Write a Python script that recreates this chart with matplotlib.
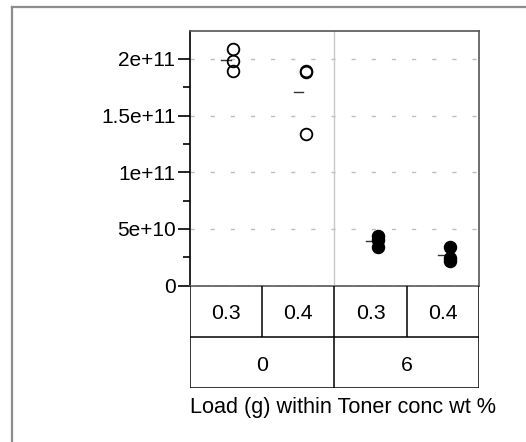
import matplotlib.pyplot as plt
from matplotlib.lines import Line2D
import numpy as np

plt.rcParams['font.family'] = ['Liberation Sans', 'DejaVu Sans']

# groups: load (g) nested within toner concentration (wt %)
load_labels = ['0.3', '0.4', '0.3', '0.4']
toner_labels = ['0', '6']
filled = [False, False, True, True]
group_values = [
    [2.09e11, 1.98e11, 1.89e11],
    [1.89e11, 1.885e11, 1.335e11],
    [4.35e10, 4.0e10, 3.4e10],
    [3.45e10, 2.45e10, 2.15e10],
]
ytick_vals = [0, 5e10, 1e11, 1.5e11, 2e11]
ytick_text = ['0', '5e+10', '1e+11', '1.5e+11', '2e+11']
ymax = 2.245e11

fig = plt.figure(figsize=(5.26, 4.42), dpi=100)

# outer panel border (open on right and bottom)
fig.add_artist(Line2D([12 / 526, 12 / 526], [0, 1 - 7 / 442], transform=fig.transFigure,
                      color='#8c8c8c', lw=1.6))
fig.add_artist(Line2D([12 / 526, 1], [1 - 7 / 442, 1 - 7 / 442], transform=fig.transFigure,
                      color='#8c8c8c', lw=1.6))

ax = fig.add_axes([0.3612, 0.3536, 0.5494, 0.5763])
ax.set_xlim(0, 4)
ax.set_ylim(0, ymax)

for v in ytick_vals:
    ax.axhline(v, color='#bdbdbd', lw=1, dashes=(3, 11.5), zorder=3 if v == 0 else 1)
ax.axvline(2, color='#c8c8c8', lw=1, zorder=1)

for i, vals in enumerate(group_values):
    xc = i + 0.5
    ax.plot([xc - 0.065, xc + 0.065], [np.mean(vals)] * 2, color='#333333', lw=1, zorder=2)
    ax.plot([xc + 0.1] * len(vals), vals, 'o', ms=8.4, mew=1.3, mec='black',
            mfc='black' if filled[i] else 'none', zorder=3, clip_on=False)

ax.set_yticks(ytick_vals)
ax.set_yticklabels(ytick_text, fontsize=15)
ax.set_yticks(np.arange(2.5e10, 2.25e11, 5e10), minor=True)
ax.tick_params(axis='y', which='major', length=8.5, width=1.2, pad=2)
ax.tick_params(axis='y', which='minor', length=5, width=1.2)
ax.set_xticks([])
ax.spines['left'].set_color('black')
ax.spines['left'].set_linewidth(1.2)
for s in ['top', 'right', 'bottom']:
    ax.spines[s].set_color('#555555')
    ax.spines[s].set_linewidth(1.2)

# two-level category table under the plot
tb = fig.add_axes([0.3612, 1 - 388.3 / 442, 0.5494, (388.3 - 285.7) / 442])
tb.set_xlim(0, 4)
tb.set_ylim(0, 2)
tb.axis('off')
kw = dict(color='black', lw=1.1, solid_capstyle='butt')
tb.plot([0, 0, 4, 4], [2, 0, 0, 2], **kw)
tb.plot([0, 4], [1.0, 1.0], **kw)
tb.plot([2, 2], [0, 2], **kw)
for x in [1, 3]:
    tb.plot([x, x], [1.0, 2], **kw)
for i, lab in enumerate(load_labels):
    tb.text(i + 0.5, 1.45, lab, ha='center', va='center', fontsize=15.3)
for i, lab in enumerate(toner_labels):
    tb.text(2 * i + 1, 0.45, lab, ha='center', va='center', fontsize=15.3)

fig.text(190 / 526, 1 - 407 / 442, 'Load (g) within Toner conc wt %', ha='left', va='center',
         fontsize=15.6)

fig.savefig('out.png', dpi=100)
